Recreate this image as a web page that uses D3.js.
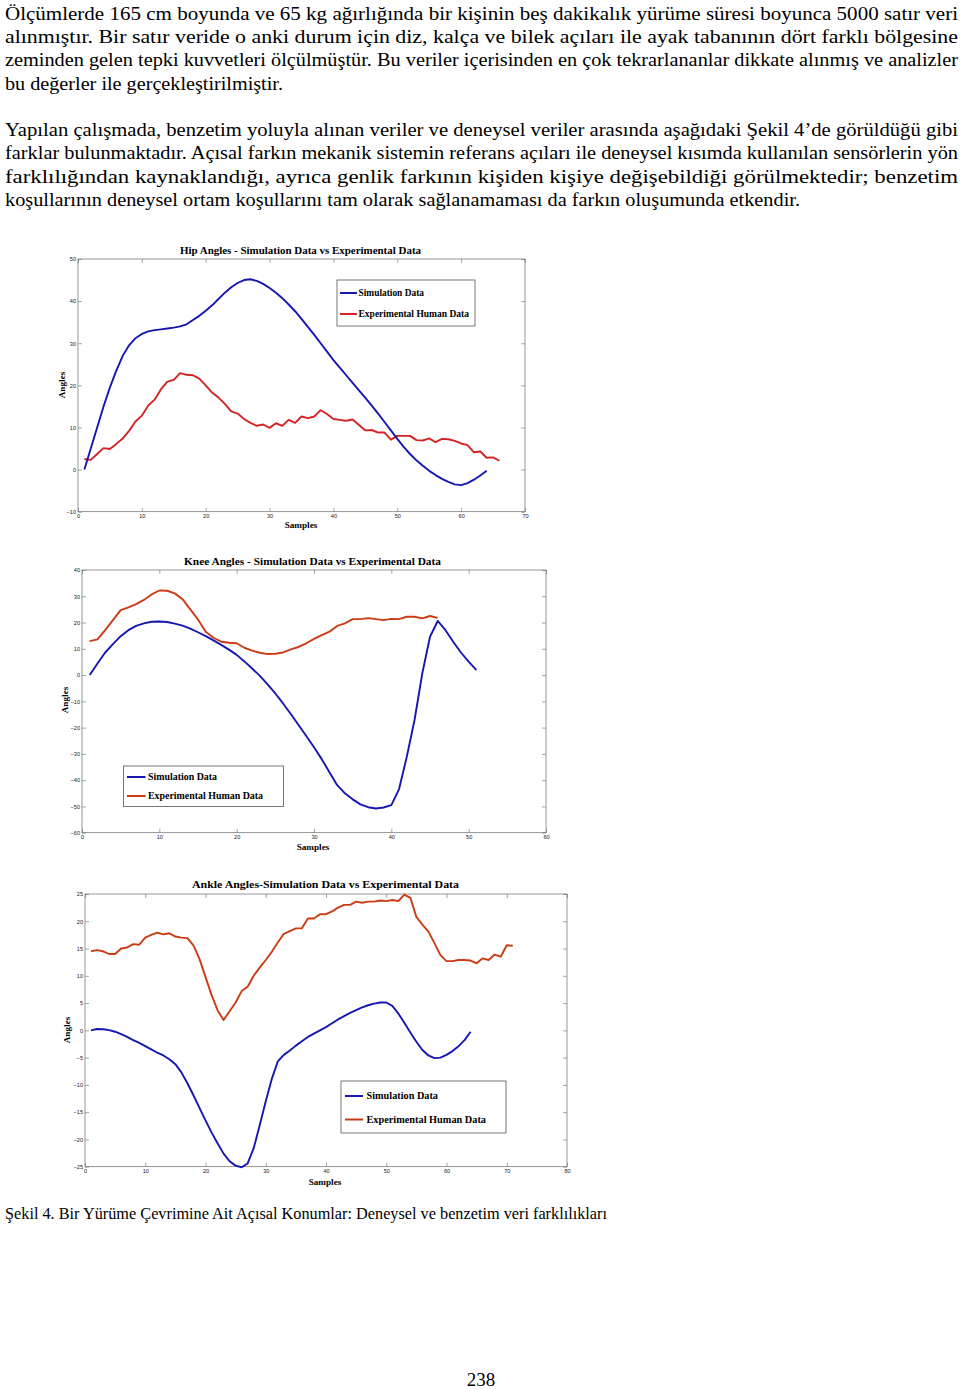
<!DOCTYPE html>
<html><head><meta charset="utf-8">
<script src="https://cdn.jsdelivr.net/npm/d3@7"></script>
<style>body{margin:0;background:#fff}svg{display:block}</style>
</head><body><svg id="page" width="960" height="1389"></svg>
<script>
// ---------- text ----------
const bodyLines = [
  "Ölçümlerde 165 cm boyunda ve 65 kg ağırlığında bir kişinin beş dakikalık yürüme süresi boyunca 5000 satır veri",
  "alınmıştır. Bir satır veride o anki durum için diz, kalça ve bilek açıları ile ayak tabanının dört farklı bölgesine",
  "zeminden gelen tepki kuvvetleri ölçülmüştür. Bu veriler içerisinden en çok tekrarlananlar dikkate alınmış ve analizler",
  "bu değerler ile gerçekleştirilmiştir.",
  "Yapılan çalışmada, benzetim yoluyla alınan veriler ve deneysel veriler arasında aşağıdaki Şekil 4’de görüldüğü gibi",
  "farklar bulunmaktadır. Açısal farkın mekanik sistemin referans açıları ile deneysel kısımda kullanılan sensörlerin yön",
  "farklılığından kaynaklandığı, ayrıca genlik farkının kişiden kişiye değişebildiği görülmektedir;  benzetim",
  "koşullarının deneysel ortam koşullarını tam olarak sağlanamaması da farkın oluşumunda etkendir."
];
const caption = "Şekil 4. Bir Yürüme Çevrimine Ait Açısal Konumlar: Deneysel ve benzetim veri farklılıkları";
const pageNumber = "238";
const legendLabels = ["Simulation Data", "Experimental Human Data"];

// ---------- data ----------
const hipTitle = "Hip Angles - Simulation Data vs Experimental Data";
const hipXTicks = [0,10,20,30,40,50,60,70];
const hipYTicks = [-10,0,10,20,30,40,50];
const hipSim = [0,5,10,15,19.5,23.5,27,29.5,31.2,32.2,32.8,33.1,33.3,33.5,33.7,34,34.5,35.5,36.5,37.7,
  39,40.5,42,43.3,44.3,45,45.2,44.8,44.1,43.1,42,40.7,39.2,37.6,35.8,33.9,32,30,28,26,
  24.2,22.4,20.6,18.8,17,15.2,13.3,11.3,9.3,7.3,5.4,3.7,2.2,0.9,-0.3,-1.3,-2.2,-2.9,-3.5,-3.7,
  -3.2,-2.4,-1.4,-0.3];
const hipExp = [2.5,2.3,3.7,5.1,4.9,6.1,7.4,9.2,11.4,12.8,15.2,16.6,19.1,20.9,21.3,22.9,22.5,22.4,21.6,20,
  18.3,17.1,15.6,13.8,13.3,12,11.1,10.4,10.7,9.9,11,10.4,11.8,11.1,12.6,12.2,12.6,14.1,13.2,12,
  11.8,11.6,11.9,10.6,9.3,9.4,8.8,8.8,7.1,8,8,8,7,6.9,7.4,6.5,7.3,7.2,6.8,6.2,
  5.8,4.1,4.3,2.8,2.9,2.1];

const kneeTitle = "Knee Angles - Simulation Data vs Experimental Data";
const kneeXTicks = [0,10,20,30,40,50,60];
const kneeYTicks = [-60,-50,-40,-30,-20,-10,0,10,20,30,40];
const kneeSim = [0,4.4,8.6,11.8,14.8,17.1,18.7,19.7,20.3,20.4,20.2,19.6,18.8,17.7,16.3,14.8,13.2,11.5,9.7,7.7,
  5.2,2.5,-0.3,-3.5,-7,-10.8,-14.8,-19,-23.2,-27.5,-32,-37,-41.9,-45,-47.3,-49.2,-50.3,-50.8,-50.4,-49.5,
  -43.4,-31.1,-17.1,0.6,14.6,20.6,17.1,12.7,8.6,5.1,1.9];
const kneeExp = [12.9,13.6,17.1,20.9,24.7,25.8,27,28.6,30.7,32.2,32.1,31.1,28.9,25,21.2,16.5,14.2,12.7,12.3,12.1,
  10.4,9.3,8.5,8,8.1,8.6,9.8,10.7,12.1,13.8,15.2,16.5,18.7,19.7,21.3,21.3,21.7,21.3,20.9,21.4,
  21.3,22.2,22.2,21.6,22.5,21.8];

const ankleTitle = "Ankle Angles-Simulation Data vs Experimental Data";
const ankleXTicks = [0,10,20,30,40,50,60,70,80];
const ankleYTicks = [-25,-20,-15,-10,-5,0,5,10,15,20,25];
const ankleSim = [0,0.25,0.2,0.05,-0.25,-0.7,-1.2,-1.8,-2.3,-2.9,-3.5,-4.1,-4.6,-5.3,-6.2,-7.7,-9.7,-11.9,-14.2,-16.5,
  -18.7,-20.7,-22.6,-24,-24.8,-25.1,-24.4,-21.6,-17.4,-13,-8.9,-5.7,-4.5,-3.7,-2.8,-2,-1.2,-0.6,0,0.6,
  1.3,2,2.6,3.2,3.7,4.2,4.6,4.9,5.1,5.1,4.5,3.1,1.4,-0.4,-2.1,-3.6,-4.6,-5.1,-5,-4.5,
  -3.8,-2.9,-1.8,-0.25];
const ankleExp = [14.5,14.7,14.5,14,14,15,15.2,15.8,15.7,17,17.5,17.9,17.6,17.8,17.2,17,16.9,15.6,13.1,9.8,
  6.5,3.7,1.9,3.5,5.1,7.2,8,10,11.5,12.9,14.4,16.1,17.7,18.2,18.7,18.7,20.5,20.5,21.3,21.3,
  21.8,22.5,23,23,23.6,23.4,23.6,23.6,23.8,23.7,23.9,23.7,24.9,24.3,20.8,19.4,18.1,16,13.8,12.7,
  12.7,12.9,12.9,12.8,12.3,13.2,12.9,13.9,13.5,15.6,15.5];

// ---------- page ----------
const svg = d3.select("#page");
svg.append("rect").attr("width",960).attr("height",1389).attr("fill","#fff");
const serif = "'Liberation Serif','Times New Roman',serif";
const sans = "'Liberation Sans',Arial,sans-serif";

const lineLayout = [
  {y:19.5,w:953},{y:43,w:953},{y:66.3,w:953},{y:89.6,w:278},
  {y:136,w:953},{y:159.3,w:953},{y:182.6,w:953},{y:206,w:795}
];
bodyLines.forEach((t,i)=>{
  svg.append("text").attr("x",5).attr("y",lineLayout[i].y)
    .attr("font-family",serif).attr("font-size",19.4).attr("fill","#000")
    .attr("textLength",lineLayout[i].w).attr("lengthAdjust","spacingAndGlyphs")
    .text(t);
});
svg.append("text").attr("x",5).attr("y",1218.5).attr("font-family",serif).attr("font-size",17.6)
  .attr("textLength",602).attr("lengthAdjust","spacingAndGlyphs").text(caption);
svg.append("text").attr("x",481).attr("y",1386).attr("text-anchor","middle")
  .attr("font-family",serif).attr("font-size",19).text(pageNumber);

const BLUE = "#1616b2";
const axisColor = "#6a6a6a";

function drawChart(c){
  const g = svg.append("g");
  const x = d3.scaleLinear().domain([c.xTicks[0], c.xTicks[c.xTicks.length-1]]).range([c.left,c.right]);
  const y = d3.scaleLinear().domain([c.yTicks[0], c.yTicks[c.yTicks.length-1]]).range([c.bottom,c.top]);

  const styleAxis = sel => {
    sel.select(".domain").remove();
    sel.selectAll(".tick line").attr("stroke",axisColor).attr("stroke-width",0.6);
    sel.selectAll(".tick text").attr("font-family",sans).attr("font-size",5.6).attr("fill","#222");
  };
  g.append("g").attr("transform",`translate(0,${c.bottom})`)
    .call(d3.axisBottom(x).tickValues(c.xTicks).tickSize(-4).tickPadding(2.4).tickFormat(d3.format("d"))).call(styleAxis);
  g.append("g").attr("transform",`translate(0,${c.top})`)
    .call(d3.axisTop(x).tickValues(c.xTicks).tickSize(-4).tickFormat("")).call(styleAxis);
  g.append("g").attr("transform",`translate(${c.left},0)`)
    .call(d3.axisLeft(y).tickValues(c.yTicks).tickSize(-4).tickPadding(2).tickFormat(d3.format("d"))).call(styleAxis);
  g.append("g").attr("transform",`translate(${c.right},0)`)
    .call(d3.axisRight(y).tickValues(c.yTicks).tickSize(-4).tickFormat("")).call(styleAxis);
  g.append("rect").attr("x",c.left).attr("y",c.top).attr("width",c.right-c.left).attr("height",c.bottom-c.top)
    .attr("fill","none").attr("stroke",axisColor).attr("stroke-width",0.7);

  const line = d3.line().x((d,i)=>x(i+1)).y(d=>y(d));
  g.append("path").datum(c.exp).attr("d",line).attr("fill","none").attr("stroke",c.red)
    .attr("stroke-width",1.9).attr("stroke-linejoin","round");
  g.append("path").datum(c.sim).attr("d",line).attr("fill","none").attr("stroke",BLUE)
    .attr("stroke-width",1.9).attr("stroke-linejoin","round");

  // title & labels
  g.append("text").attr("x",c.title.x).attr("y",c.title.y).attr("text-anchor","middle")
    .attr("font-family",serif).attr("font-weight","bold").attr("font-size",10.5)
    .attr("textLength",c.title.w).attr("lengthAdjust","spacingAndGlyphs").text(c.title.text);
  g.append("text").attr("x",c.xlab.x).attr("y",c.xlab.y).attr("text-anchor","middle")
    .attr("font-family",serif).attr("font-weight","bold").attr("font-size",9.2).text("Samples");
  g.append("text").attr("transform",`translate(${c.ylab.x},${c.ylab.y}) rotate(-90)`).attr("text-anchor","middle")
    .attr("font-family",serif).attr("font-weight","bold").attr("font-size",9.2).text("Angles");

  // legend
  const L = c.legend;
  g.append("rect").attr("x",L.x0).attr("y",L.y0).attr("width",L.x1-L.x0).attr("height",L.y1-L.y0)
    .attr("fill","#fff").attr("stroke","#555").attr("stroke-width",0.8);
  [[BLUE,L.ys[0],L.tw[0]],[c.red,L.ys[1],L.tw[1]]].forEach(([col,yy,tw],i)=>{
    g.append("line").attr("x1",L.lx0).attr("x2",L.lx1).attr("y1",yy).attr("y2",yy)
      .attr("stroke",col).attr("stroke-width",2);
    g.append("text").attr("x",L.tx).attr("y",yy+3.4).attr("font-family",serif).attr("font-weight","bold")
      .attr("font-size",L.fs).attr("textLength",tw).attr("lengthAdjust","spacingAndGlyphs").text(legendLabels[i]);
  });
}

drawChart({
  left:78, right:525, top:259, bottom:511.7,
  xTicks:hipXTicks, yTicks:hipYTicks, sim:hipSim, exp:hipExp, red:"#d42424",
  title:{text:hipTitle,x:300.5,y:253.5,w:241},
  xlab:{x:301,y:528}, ylab:{x:65,y:385},
  legend:{x0:337,y0:280,x1:475,y1:326,ys:[293,314],lx0:340,lx1:357,tx:358.5,tw:[65.5,110.5],fs:9.6}
});
drawChart({
  left:82, right:546, top:570, bottom:832.7,
  xTicks:kneeXTicks, yTicks:kneeYTicks, sim:kneeSim, exp:kneeExp, red:"#cc3c14",
  title:{text:kneeTitle,x:312.5,y:564.5,w:257},
  xlab:{x:313,y:850}, ylab:{x:68,y:700},
  legend:{x0:123.5,y0:766,x1:283.5,y1:806.5,ys:[777,796],lx0:127,lx1:145.5,tx:148,tw:[69,115],fs:10}
});
drawChart({
  left:85, right:567, top:894, bottom:1166.7,
  xTicks:ankleXTicks, yTicks:ankleYTicks, sim:ankleSim, exp:ankleExp, red:"#cc3c14",
  title:{text:ankleTitle,x:325.5,y:887.5,w:267},
  xlab:{x:325,y:1185}, ylab:{x:70,y:1030},
  legend:{x0:341,y0:1081,x1:506,y1:1133,ys:[1096,1119.5],lx0:345,lx1:363,tx:366.5,tw:[71.5,119.5],fs:10.4}
});
</script></body></html>
